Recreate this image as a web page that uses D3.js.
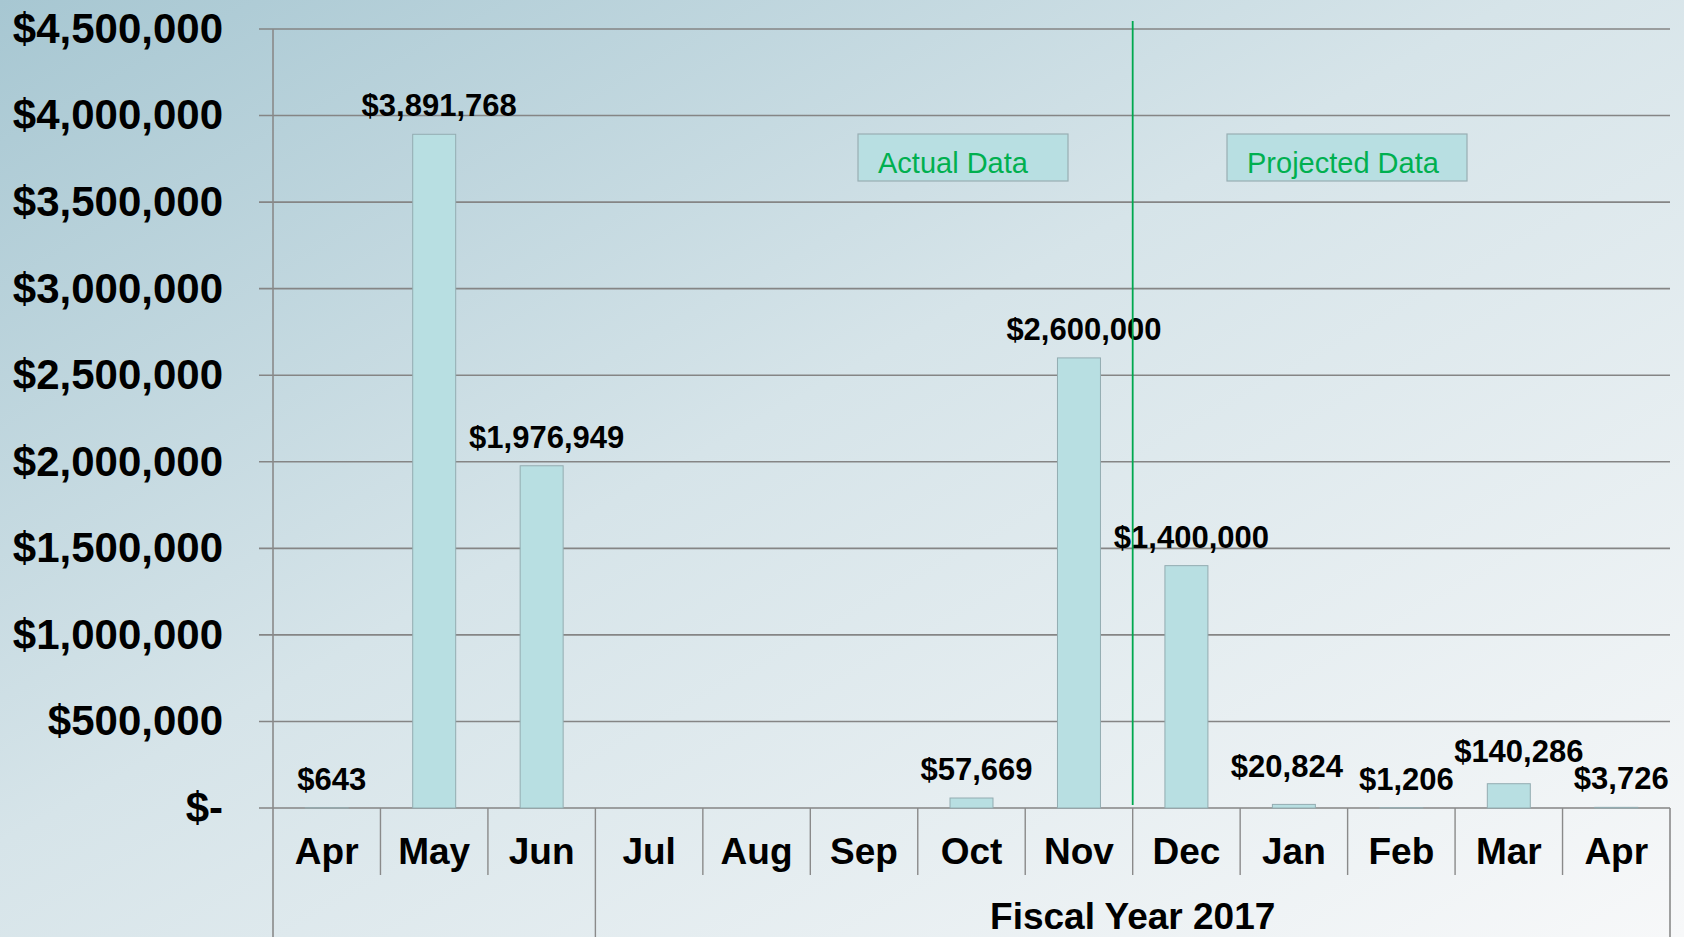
<!DOCTYPE html>
<meta charset="utf-8">
<html>
<head>
<script src="https://cdn.jsdelivr.net/npm/d3@7"></script>
<style>
body { margin: 0; overflow: hidden; }
text { font-family: Arial, "Liberation Sans", sans-serif; fill: #000; }
</style>
<title></title>
</head>
<body>
<script>

// month categories (two Aprils, so keep a unique key)
var months = ["Apr", "May", "Jun", "Jul", "Aug", "Sep", "Oct", "Nov", "Dec", "Jan", "Feb", "Mar", "Apr"];
var values = [643, 3891768, 1976949, null, null, null, 57669, 2600000, 1400000, 20824, 1206, 140286, 3726];
var yTicks = [0, 500000, 1000000, 1500000, 2000000, 2500000, 3000000, 3500000, 4000000, 4500000];
var fiscalLabel = "Fiscal Year 2017";
var boxLabels = ["Actual Data", "Projected Data"];

// small hand nudges for a couple of labels, like the original
var labelNudgeX = [0, 0, 0, 0, 0, 0, 0, 0, 0, -12, 0, 5, 0];
var labelNudgeY = [0, 0, 0, 0, 0, 0, 0, 0, 0, -9, 0, -4, 0];

var width = 1684, height = 937;
var plotLeft = 273, plotRight = 1670, plotTop = 29, zeroY = 808;

var keys = months.map(function(m, i) { return i; });

var svg = d3.select("body").append("svg")
    .attr("width", width)
    .attr("height", height);

var defs = svg.append("defs");
var grad = defs.append("linearGradient")
    .attr("id", "bg")
    .attr("x1", "0%").attr("y1", "0%")
    .attr("x2", "100%").attr("y2", "100%");
grad.append("stop").attr("offset", "0%").attr("stop-color", "#a7c7d2");
grad.append("stop").attr("offset", "45%").attr("stop-color", "#d6e4e9");
grad.append("stop").attr("offset", "100%").attr("stop-color", "#f7f8f9");

svg.append("rect")
    .attr("width", width).attr("height", height)
    .attr("fill", "url(#bg)");

var x = d3.scaleBand()
    .domain(keys)
    .range([plotLeft, plotRight])
    .paddingInner(0)
    .paddingOuter(0);

var y = d3.scaleLinear()
    .domain([0, 4500000])
    .range([zeroY, plotTop]);

// gridlines + y labels
var grid = svg.append("g");
grid.selectAll("line")
    .data(yTicks)
    .enter().append("line")
    .attr("x1", plotLeft - 14)
    .attr("x2", plotRight)
    .attr("y1", function(d) { return y(d); })
    .attr("y2", function(d) { return y(d); })
    .attr("stroke", "#858585")
    .attr("stroke-width", 1.6);

grid.selectAll("text")
    .data(yTicks)
    .enter().append("text")
    .attr("x", 223)
    .attr("y", function(d) { return y(d); })
    .attr("dy", "0.33em")
    .attr("text-anchor", "end")
    .style("font-size", "42px")
    .style("font-weight", "bold")
    .text(function(d) { return d === 0 ? "$-" : "$" + d3.format(",")(d); });

// bars
var bw = x.bandwidth() * 0.4;
svg.append("g")
    .selectAll("rect")
    .data(keys.filter(function(i) { return values[i] != null; }))
    .enter().append("rect")
    .attr("x", function(i) { return x(i) + (x.bandwidth() - bw) / 2; })
    .attr("width", bw)
    .attr("y", function(i) { return y(values[i]); })
    .attr("height", function(i) { return zeroY - y(values[i]); })
    .attr("fill", "#b8dfe2")
    .attr("stroke", "#93acb1")
    .attr("stroke-width", 1);

// value labels
svg.append("g")
    .selectAll("text")
    .data(keys.filter(function(i) { return values[i] != null; }))
    .enter().append("text")
    .attr("x", function(i) { return x(i) + x.bandwidth() / 2 + 5 + labelNudgeX[i]; })
    .attr("y", function(i) { return y(values[i]) - 18 + labelNudgeY[i]; })
    .attr("text-anchor", "middle")
    .style("font-size", "31px")
    .style("font-weight", "bold")
    .text(function(i) { return "$" + d3.format(",")(values[i]); });

// axis lines
svg.append("line")
    .attr("x1", plotLeft).attr("x2", plotLeft)
    .attr("y1", plotTop).attr("y2", height)
    .attr("stroke", "#8a8a8a").attr("stroke-width", 1.6);

svg.append("line")
    .attr("x1", plotRight).attr("x2", plotRight)
    .attr("y1", zeroY).attr("y2", height)
    .attr("stroke", "#8a8a8a").attr("stroke-width", 1.6);

// month separators
svg.append("g")
    .selectAll("line")
    .data(keys.slice(1))
    .enter().append("line")
    .attr("x1", function(i) { return x(i); })
    .attr("x2", function(i) { return x(i); })
    .attr("y1", zeroY)
    .attr("y2", function(i) { return i === 3 ? height : 875; })
    .attr("stroke", "#8a8a8a")
    .attr("stroke-width", 1.4);

// month labels
svg.append("g")
    .selectAll("text")
    .data(keys)
    .enter().append("text")
    .attr("x", function(i) { return x(i) + x.bandwidth() / 2; })
    .attr("y", 851)
    .attr("dy", "0.36em")
    .attr("text-anchor", "middle")
    .style("font-size", "37px")
    .style("font-weight", "bold")
    .text(function(i) { return months[i]; });

svg.append("text")
    .attr("x", (x(3) + plotRight) / 2)
    .attr("y", 916)
    .attr("dy", "0.36em")
    .attr("text-anchor", "middle")
    .style("font-size", "37px")
    .style("font-weight", "bold")
    .text(fiscalLabel);

// actual / projected divider
var splitX = x(8);
svg.append("line")
    .attr("x1", splitX).attr("x2", splitX)
    .attr("y1", 21).attr("y2", 805)
    .attr("stroke", "#00a84f")
    .attr("stroke-width", 1.8);

var boxes = [
  {label: boxLabels[0], x0: 858, x1: 1068},
  {label: boxLabels[1], x0: 1227, x1: 1467}
];
var boxG = svg.append("g").selectAll("g")
    .data(boxes)
    .enter().append("g");
boxG.append("rect")
    .attr("x", function(d) { return d.x0; })
    .attr("y", 134)
    .attr("width", function(d) { return d.x1 - d.x0; })
    .attr("height", 47)
    .attr("fill", "#b8dfe2")
    .attr("stroke", "#98aeb3")
    .attr("stroke-width", 1.2);
boxG.append("text")
    .attr("x", function(d) { return d.x0 + 20; })
    .attr("y", 163)
    .attr("dy", "0.36em")
    .attr("text-anchor", "start")
    .style("font-size", "29px")
    .style("fill", "#00b050")
    .text(function(d) { return d.label; });

</script>
</body>
</html>
